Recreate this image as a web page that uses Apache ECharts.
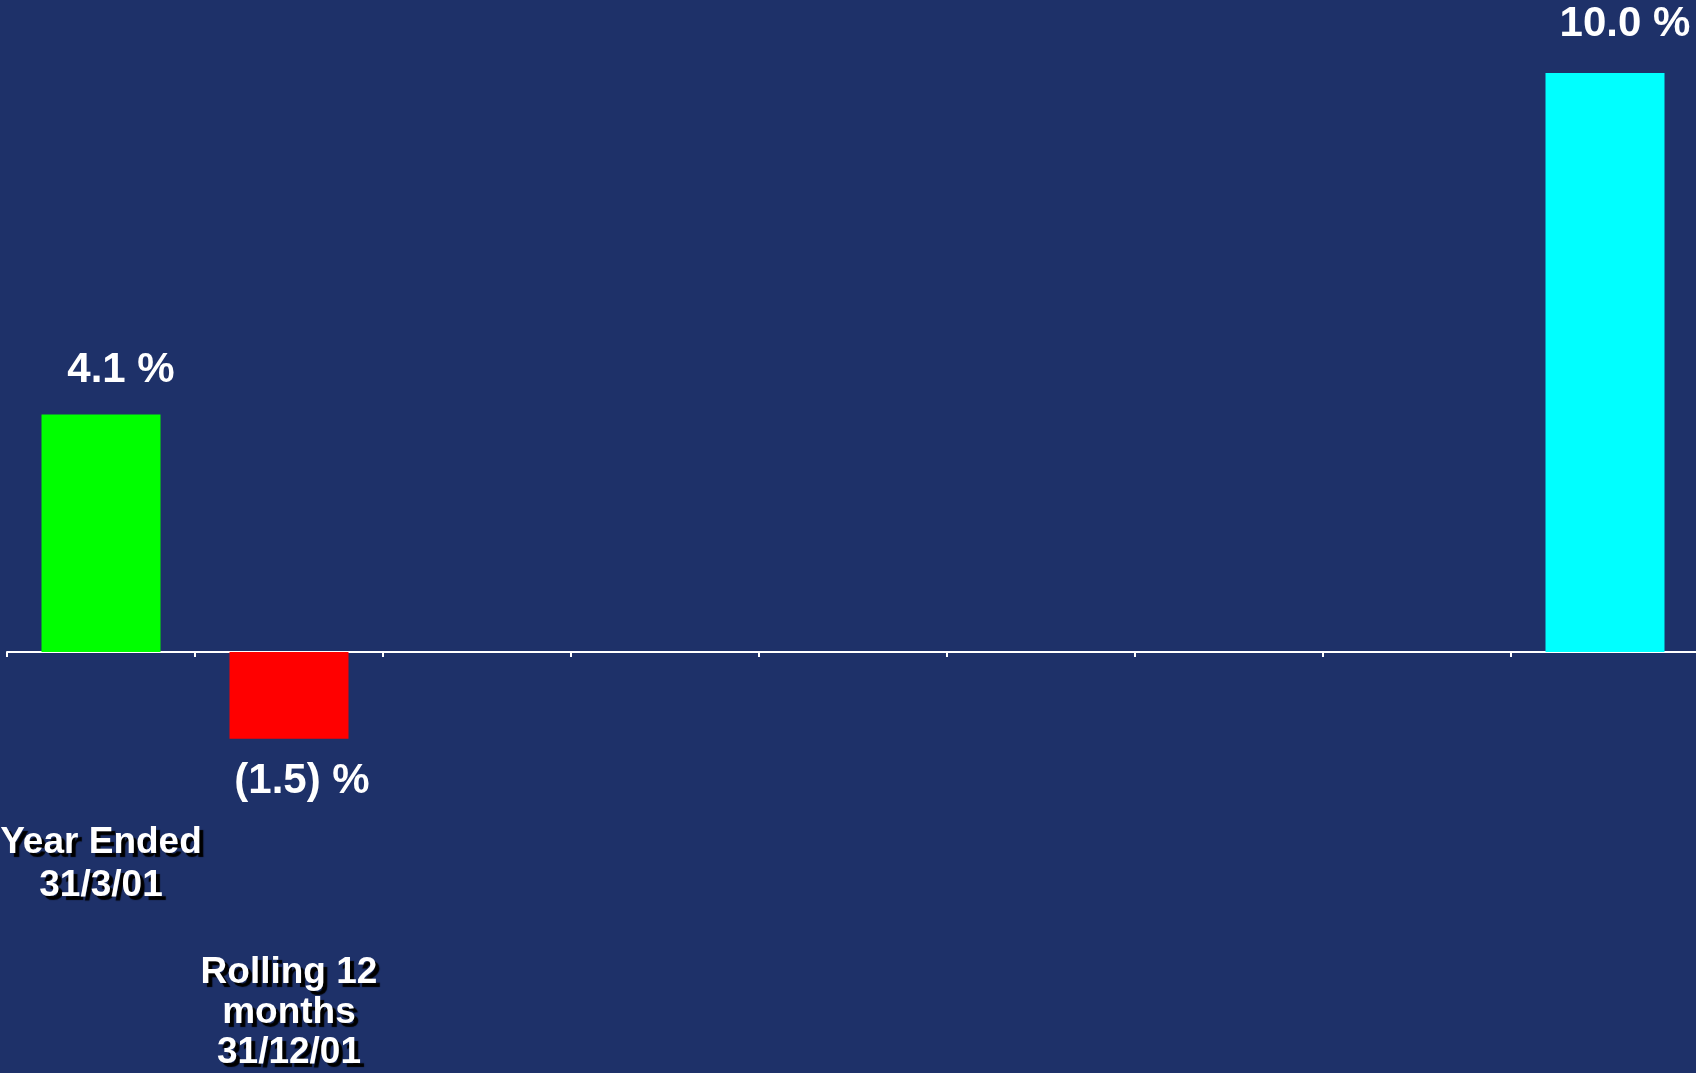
<!DOCTYPE html>
<html>
<head>
<meta charset="utf-8">
<script src="https://cdn.jsdelivr.net/npm/echarts@6/dist/echarts.min.js"></script>
<style>
  html, body { margin: 0; padding: 0; background: #1e3169; }
  #main { width: 1696px; height: 1073px; }
</style>
</head>
<body>
<div id="main"></div>
<script>
// 数据
var categories = ['Year Ended\n31/3/01', 'Rolling 12\nmonths\n31/12/01', '', '', '', '', '', '', ''];
var values = [4.1, -1.5, null, null, null, null, null, null, 10.0];
var barColors = ['#00ff00', '#ff0000', null, null, null, null, null, null, '#00ffff'];
var valueLabels = ['4.1 %', '(1.5) %', '', '', '', '', '', '', '10.0 %'];

var myChart = echarts.init(document.getElementById('main'));

var seriesData = values.map(function (v, i) {
    if (v === null) return null;
    var neg = v < 0;
    return {
        value: v,
        itemStyle: { color: barColors[i] },
        label: {
            show: true,
            position: neg ? 'bottom' : 'top',
            distance: neg ? 22 : (v > 8 ? 28 : 23),
            offset: [neg ? 13 : 20, 0],
            formatter: valueLabels[i]
        }
    };
});

// 分类标签文字阴影
var shadow = {
    color: '#ffffff',
    fontFamily: 'Liberation Sans, Arial, sans-serif',
    fontWeight: 'bold',
    fontSize: 37,
    textShadowColor: '#000000',
    textShadowOffsetX: 4,
    textShadowOffsetY: 4,
    textShadowBlur: 1
};

var option = {
    backgroundColor: '#1e3169',
    animation: false,
    grid: { left: 7, width: 1692, top: 15.1, height: 1042.2, outerBoundsMode: 'none' },
    xAxis: [
        {
            // 零线 + 刻度
            type: 'category',
            data: categories,
            axisLine: { onZero: true, lineStyle: { color: '#ffffff', width: 2 } },
            axisTick: { show: true, length: 5, lineStyle: { color: '#ffffff', width: 2 } },
            axisLabel: { show: false }
        },
        {
            // 分类标签（放在底部，向上偏移）
            type: 'category',
            data: categories,
            position: 'bottom',
            axisLine: { show: false, onZero: false },
            axisTick: { show: false },
            axisLabel: Object.assign({}, shadow, {
                interval: 0,
                margin: -236,
                formatter: function (val, idx) {
                    if (!val) return '';
                    var lines = val.split('\n');
                    if (idx === 1) {
                        return '{gap| }\n' + lines.map(function (s) { return '{b|' + s + '}'; }).join('\n');
                    }
                    return lines.map(function (s) { return '{a|' + s + '}'; }).join('\n');
                },
                rich: {
                    a: Object.assign({}, shadow, { lineHeight: 43 }),
                    b: Object.assign({}, shadow, { lineHeight: 40 }),
                    gap: Object.assign({}, shadow, { lineHeight: 131 })
                }
            })
        }
    ],
    yAxis: {
        type: 'value',
        min: -7,
        max: 11,
        show: false,
        splitLine: { show: false }
    },
    series: [
        {
            type: 'bar',
            xAxisIndex: 0,
            barWidth: 119,
            data: seriesData,
            label: {
                color: '#ffffff',
                fontFamily: 'Liberation Sans, Arial, sans-serif',
                fontWeight: 'bold',
                fontSize: 42
            }
        }
    ]
};

myChart.setOption(option);
</script>
</body>
</html>
